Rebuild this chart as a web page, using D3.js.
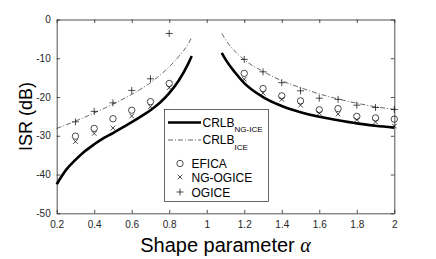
<!DOCTYPE html>
<html><head><meta charset="utf-8">
<script src="https://cdn.jsdelivr.net/npm/d3@7"></script>
<style>
html,body{margin:0;padding:0;background:#fff;}
svg{display:block;font-family:"Liberation Sans",Arial,sans-serif;}
</style></head>
<body><svg id="c" width="436" height="259"></svg>
<script>
// ---- data ----
const alphas   = [0.3,0.4,0.5,0.6,0.7,0.8, 1.2,1.3,1.4,1.5,1.6,1.7,1.8,1.9,2.0];
const efica    = [-30.1,-28.1,-25.6,-23.4,-21.2,-16.5, -13.9,-17.8,-19.7,-21.0,-23.3,-23.0,-25.0,-25.4,-25.7];
const ngogice  = [-31.5,-29.4,-28.0,-24.9,-22.5,-17.6, -15.4,-19.0,-20.6,-22.1,-24.2,-24.4,-25.9,-26.4,-27.5];
const ogice    = [-26.4,-23.7,-21.5,-18.3,-15.3,-3.6, -10.3,-13.5,-16.3,-18.4,-20.3,-20.6,-22.1,-22.7,-23.2];

const crlbAlphaL = [0.2,0.25,0.3,0.35,0.4,0.45,0.5,0.55,0.6,0.65,0.7,0.75,0.8,0.85,0.9,0.92];
const crlbNgL    = [-42.5,-38.8,-36.2,-34.0,-32.2,-30.6,-29.3,-27.9,-26.5,-25.0,-23.4,-21.5,-19.0,-15.8,-11.5,-9.4];
const crlbIceL   = [-28.1,-27.2,-26.2,-25.2,-24.1,-23.0,-21.8,-20.6,-19.3,-17.9,-16.3,-14.4,-12.2,-9.6,-6.4,-4.6];
const crlbAlphaR = [1.08,1.1,1.15,1.2,1.3,1.4,1.5,1.6,1.7,1.8,1.9,2.0];
const crlbNgR    = [-8.6,-10.3,-13.6,-16.4,-20.0,-22.3,-23.9,-25.1,-26.0,-26.8,-27.4,-27.9];
const crlbIceR   = [-3.6,-5.2,-8.2,-10.4,-13.4,-15.8,-17.6,-19.2,-20.5,-21.6,-22.5,-23.2];

const xTicks = [0.2,0.4,0.6,0.8,1,1.2,1.4,1.6,1.8,2];
const yTicks = [0,-10,-20,-30,-40,-50];

// ---- layout ----
const svg = d3.select("#c");
const L = 56.7, R = 394.3, T = 19.5, B = 213.3;
const x = d3.scaleLinear().domain([0.2,2]).range([L,R]);
const y = d3.scaleLinear().domain([-50,0]).range([B,T]);
const axCol = "#262626";
const fmt = d => String(d);

// axes
const gx = svg.append("g").attr("transform",`translate(0,${B})`)
  .call(d3.axisBottom(x).tickValues(xTicks).tickSizeInner(-3.5).tickSizeOuter(0).tickPadding(8).tickFormat(fmt));
const gxt = svg.append("g").attr("transform",`translate(0,${T})`)
  .call(d3.axisTop(x).tickValues(xTicks).tickSizeInner(-3.5).tickSizeOuter(0).tickFormat(""));
const gy = svg.append("g").attr("transform",`translate(${L},0)`)
  .call(d3.axisLeft(y).tickValues(yTicks).tickSizeInner(-3.5).tickSizeOuter(0).tickPadding(6).tickFormat(fmt));
const gyr = svg.append("g").attr("transform",`translate(${R},0)`)
  .call(d3.axisRight(y).tickValues(yTicks).tickSizeInner(-3.5).tickSizeOuter(0).tickFormat(""));
[gx,gxt,gy,gyr].forEach(g=>{
  g.select(".domain").attr("stroke",axCol).attr("stroke-width",0.8);
  g.selectAll(".tick line").attr("stroke",axCol).attr("stroke-width",0.8);
  g.selectAll(".tick text").attr("fill",axCol).attr("font-size",10).attr("font-family","Liberation Sans, Arial, sans-serif");
});

// curves
const line = d3.line().x(d=>x(d[0])).y(d=>y(d[1])).curve(d3.curveMonotoneX);
const zip = (a,b)=>a.map((v,i)=>[v,b[i]]);
const plot = svg.append("g");
plot.append("path").attr("d",line(zip(crlbAlphaL,crlbIceL))).attr("fill","none").attr("stroke","#000").attr("stroke-width",0.6).attr("stroke-dasharray","5,2,1,2");
plot.append("path").attr("d",line(zip(crlbAlphaR,crlbIceR))).attr("fill","none").attr("stroke","#000").attr("stroke-width",0.6).attr("stroke-dasharray","5,2,1,2");
plot.append("path").attr("d",line(zip(crlbAlphaL,crlbNgL))).attr("fill","none").attr("stroke","#000").attr("stroke-width",2.6);
plot.append("path").attr("d",line(zip(crlbAlphaR,crlbNgR))).attr("fill","none").attr("stroke","#000").attr("stroke-width",2.6);

// markers
function circ(g,cx,cy){g.append("circle").attr("cx",cx).attr("cy",cy).attr("r",3.2).attr("fill","none").attr("stroke","#000").attr("stroke-width",0.7);}
function cross(g,cx,cy){const s=2.3;g.append("path").attr("d",`M${cx-s},${cy-s}L${cx+s},${cy+s}M${cx-s},${cy+s}L${cx+s},${cy-s}`).attr("stroke","#000").attr("stroke-width",0.7);}
function plus(g,cx,cy){const s=3.5;g.append("path").attr("d",`M${cx-s},${cy}L${cx+s},${cy}M${cx},${cy-s}L${cx},${cy+s}`).attr("stroke","#000").attr("stroke-width",0.7);}
alphas.forEach((a,i)=>{
  circ(plot,x(a),y(efica[i]));
  cross(plot,x(a),y(ngogice[i]));
  plus(plot,x(a),y(ogice[i]));
});

// legend
const lg = svg.append("g");
lg.append("rect").attr("x",164.5).attr("y",109.5).attr("width",104).attr("height",92).attr("fill","#fff").attr("stroke",axCol).attr("stroke-width",0.7);
lg.append("line").attr("x1",168).attr("x2",201).attr("y1",122.5).attr("y2",122.5).attr("stroke","#000").attr("stroke-width",2.6);
lg.append("line").attr("x1",168).attr("x2",201).attr("y1",140).attr("y2",140).attr("stroke","#000").attr("stroke-width",0.6).attr("stroke-dasharray","5,2,1,2");
const t1 = lg.append("text").attr("x",202.5).attr("y",126.5).attr("font-size",12).attr("fill","#000");
t1.append("tspan").text("CRLB");
t1.append("tspan").attr("font-size",8).attr("dy",5).text("NG-ICE");
const t2 = lg.append("text").attr("x",202.5).attr("y",144).attr("font-size",12).attr("fill","#000");
t2.append("tspan").text("CRLB");
t2.append("tspan").attr("font-size",8).attr("dy",5.5).text("ICE");
circ(lg,180,163.5);
cross(lg,180,177);
plus(lg,180,192);
const labels = [["EFICA",167.5],["NG-OGICE",181.5],["OGICE",196.5]];
labels.forEach(([s,yy])=>lg.append("text").attr("x",191.5).attr("y",yy).attr("font-size",12).attr("fill","#000").text(s));

// axis labels
svg.append("text").attr("transform",`translate(32,${(T+B)/2}) rotate(-90)`).attr("text-anchor","middle")
  .attr("font-size",18).attr("fill","#000").text("ISR (dB)");
const xl = svg.append("text").attr("x",(L+R)/2).attr("y",251.5).attr("text-anchor","middle").attr("font-size",20).attr("fill","#000");
xl.append("tspan").text("Shape parameter ");
xl.append("tspan").attr("font-family","Liberation Serif, Times New Roman, serif").attr("font-style","italic").text("α");
</script></body></html>
